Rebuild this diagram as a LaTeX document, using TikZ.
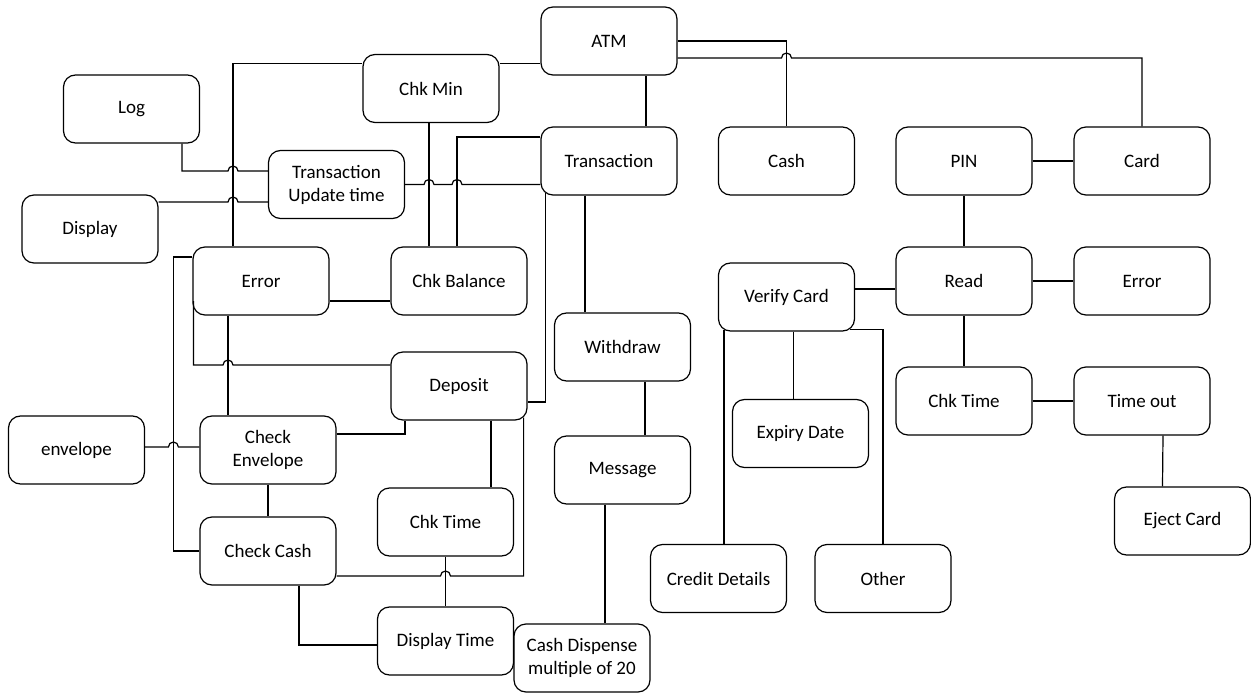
\documentclass[tikz,border=0pt]{standalone}
\usepackage{fontspec}
\setmainfont{Carlito}
\usetikzlibrary{calc}

\begin{document}
\begin{tikzpicture}[x=1pt, y=-1pt, line width=1.2pt,
  box/.style={draw, rounded corners=12pt, minimum width=136pt, minimum height=68pt,
    align=center, inner sep=2pt, font=\fontsize{19}{23}\selectfont}]

\useasboundingbox (0,0) rectangle (1251,693);

% Top row
\node[box] (atm) at (609, 41) {ATM};
\node[box] (chkmin) at (431, 88.5) {Chk Min};
\node[box] (log) at (131.5, 109) {Log};
\node[box] (tut) at (336.5, 184.5) {Transaction\\Update time};
\node[box] (display) at (90, 229) {Display};
\node[box] (trans) at (609, 161) {Transaction};
\node[box] (cash) at (786.5, 161) {Cash};
\node[box] (pin) at (964, 161) {PIN};
\node[box] (card) at (1142, 161) {Card};

% Middle rows
\node[box] (err) at (261, 281) {Error};
\node[box] (bal) at (459, 281) {Chk Balance};
\node[box] (verify) at (786.5, 297) {Verify Card};
\node[box] (read) at (964, 281) {Read};
\node[box] (rerr) at (1142, 281) {Error};
\node[box] (withdraw) at (622.5, 347) {Withdraw};
\node[box] (deposit) at (459, 386) {Deposit};
\node[box] (rtime) at (964, 401) {Chk Time};
\node[box] (timeout) at (1142, 401) {Time out};
\node[box] (expiry) at (800.5, 433.5) {Expiry Date};
\node[box] (envelope) at (76.5, 450) {envelope};
\node[box] (chkenv) at (268, 450) {Check\\Envelope};
\node[box] (message) at (622.5, 470) {Message};

% Bottom rows
\node[box] (eject) at (1182.5, 521) {Eject Card};
\node[box] (chktime) at (445.5, 522) {Chk Time};
\node[box] (chkcash) at (268, 551) {Check Cash};
\node[box] (credit) at (718.5, 578.5) {Credit Details};
\node[box] (other) at (883, 578.5) {Other};
\node[box] (disptime) at (445.5, 641) {Display Time};
\node[box] (dispense) at (582, 658) {Cash Dispense\\multiple of 20};

% ATM and its children
\draw ($(chkmin.east)+(0,-25)$) -- ($(chkmin.east -| atm.west)+(0,-25)$);
\draw ($(atm.south)+(37,0)$) -- ($(trans.north)+(37,0)$);
\draw (atm.east) -| (cash.north);
\draw ($(atm.east)+(0,17)$) -- ($(cash.north |- atm.east)+(-5,17)$) arc (180:0:5pt) -| (card.north);

% Card side
\draw (pin) -- (card);
\draw (pin) -- (read);
\draw (read) -- (rerr);
\draw ($(verify.east)+(0,-8)$) -- ($(read.west)+(0,8)$);
\draw (read) -- (rtime);
\draw (rtime) -- (timeout);
\draw ($(timeout.south)+(21,0)$) -- ($(eject.north)+(-20,0)$);

% Verify card
\draw ($(credit.north)+(5.5,0)$) -- ($(credit.north |- verify.south)+(5.5,-2)$);
\draw ($(verify.south)+(7,0)$) -- ($(expiry.north)+(-7,0)$);
\draw ($(verify.south east)+(-5,-2)$) -| (other.north);

% Transaction branch
\draw ($(trans.south)+(-24,0)$) -- ($(trans.south |- withdraw.north)+(-24,0)$);
\draw ($(withdraw.south)+(22.5,0)$) -- ($(message.north)+(22.5,0)$);
\draw ($(message.south)+(-17.5,0)$) -- ($(message.south |- dispense.north)+(-17.5,0)$);
\draw ($(trans.south west)+(5,-2.5)$) |- ($(deposit.east)+(0,16)$);
\draw (trans.west |- tut.east) -- ($(bal.north |- tut.east)+(3,0)$) arc (0:180:5pt)
  -- ($(bal.north |- tut.east)+(-25,0)$) arc (0:180:5pt) -- (tut.east);
\draw ($(chkmin.south)+(-2,0)$) -- ($(chkmin.south |- bal.north)+(-2,0)$);
\draw ($(trans.west)+(0,-24)$) -| ($(bal.north)+(-2,0)$);

% Log and Display
\draw ($(log.south)+(50.5,0)$) |- ($(err.north |- tut.west)+(-33,-13.5)$) arc (180:0:5pt)
  -- ($(tut.west)+(0,-13.5)$);
\draw ($(display.east)+(0,-27)$) -- ($(err.north |- display.east)+(-33,-27)$) arc (180:0:5pt)
  -- ($(tut.west)+(0,17.5)$);

% Error
\draw ($(err.north)+(-28,0)$) |- ($(chkmin.west)+(0,-25)$);
\draw ($(err.east)+(0,20)$) -- ($(bal.west)+(0,20)$);
\draw ($(err.west)+(1,20)$) |- ($(err.south |- deposit.west)+(-38,-21)$) arc (180:0:5pt)
  -- ($(deposit.west)+(0,-21)$);
\draw ($(err.south)+(-33,0)$) -- ($(err.south |- chkenv.north)+(-33,0)$);
\draw ($(err.west)+(0,-24)$) -| ($(chkcash.west)+(-26,0)$) -- (chkcash.west);

% Envelope and cash checks
\draw ($(envelope.east)+(0,-3)$) -- ($(chkcash.west |- envelope.east)+(-31,-3)$) arc (180:0:5pt)
  -- ($(chkenv.west)+(0,-3)$);
\draw ($(chkenv.east)+(0,-16)$) -| ($(deposit.south)+(-54,0)$);
\draw (chkenv) -- (chkcash);
\draw ($(deposit.south)+(32,0)$) -- ($(deposit.south |- chktime.north)+(32,0)$);
\draw ($(deposit.south east)+(-4,-3)$) |- ($(chktime.south |- chkcash.east)+(5,25)$) arc (0:180:5pt)
  -- ($(chkcash.east)+(0,25)$);
\draw (chktime) -- (disptime);
\draw ($(chkcash.south)+(31,0)$) |- ($(disptime.west)+(0,4)$);

\end{tikzpicture}
\end{document}
